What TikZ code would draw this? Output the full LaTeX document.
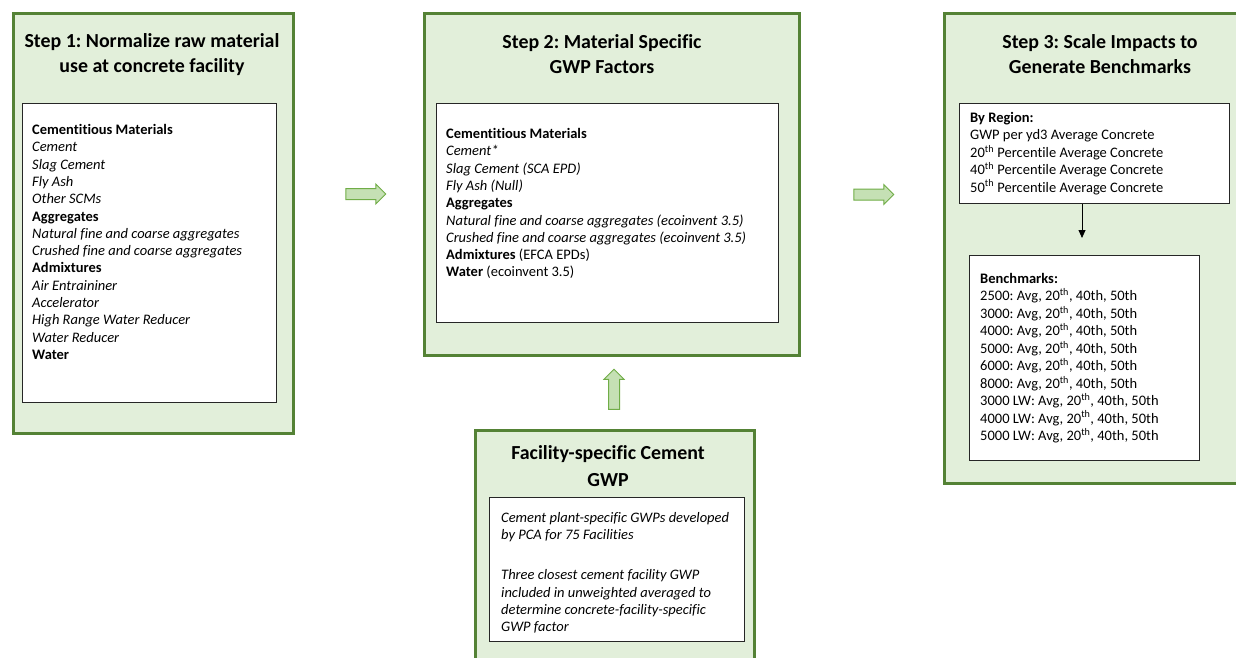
\documentclass[tikz,border=0pt]{standalone}
\usepackage{fontspec}
\setmainfont{Carlito}[Ligatures=NoCommon]
\usetikzlibrary{shapes.arrows,arrows.meta,calc}
\definecolor{boxfill}{HTML}{E2EFDA}
\definecolor{boxline}{HTML}{548235}
\definecolor{arrfill}{HTML}{C5E0B4}
\definecolor{arrline}{HTML}{70AD47}
\frenchspacing
\newcommand{\lines}[1]{\fontsize{14.5}{17.3}\selectfont\begin{tabular}[t]{@{}l@{}}#1\end{tabular}}
\begin{document}
\begin{tikzpicture}[x=1pt,y=-1pt,
  outerbox/.style={draw=boxline, fill=boxfill, line width=2.6pt, inner sep=0pt, anchor=north west},
  innerbox/.style={draw=black!85, fill=white, line width=1.2pt, inner sep=0pt, anchor=north west},
  titletext/.style={font=\fontsize{19.9}{25}\selectfont\bfseries, align=center, inner sep=0pt},
  bodytext/.style={inner sep=0pt, anchor=base west},
  blockarrow/.style={single arrow, draw=arrline, fill=arrfill, line width=1pt, text width=0pt,
    inner xsep=0pt, inner ysep=5pt, minimum height=40pt, single arrow head extend=4.5pt, single arrow tip angle=90}]
\useasboundingbox (0,0) rectangle (1236,658);
\clip (0,0) rectangle (1236,658);
\fill[white] (0,0) rectangle (1236,658);

% Step 1
\node[outerbox, minimum width=280pt, minimum height=420pt] (s1) at (12,12) {};
\node[titletext] (s1t) at (152,54.5) {Step 1: Normalize raw material\\use at concrete facility};
\node[innerbox, minimum width=254pt, minimum height=299pt] (s1b) at (22,103) {};
\node[bodytext] (s1x) at (32,134.5) {\lines{\textbf{Cementitious Materials}\\
\textit{Cement}\\ \textit{Slag Cement}\\ \textit{Fly Ash}\\ \textit{Other SCMs}\\
\textbf{Aggregates}\\ \textit{Natural fine and coarse aggregates}\\ \textit{Crushed fine and coarse aggregates}\\
\textbf{Admixtures}\\ \textit{Air Entraininer}\\ \textit{Accelerator}\\ \textit{High Range Water Reducer}\\ \textit{Water Reducer}\\
\textbf{Water}}};

% Step 2
\node[outerbox, minimum width=375pt, minimum height=342pt] (s2) at (423,12) {};
\node[titletext] (s2t) at (602,54.5) {Step 2: Material Specific\\GWP Factors};
\node[innerbox, minimum width=342pt, minimum height=219pt] (s2b) at (436,103) {};
\node[bodytext] (s2x) at (446,138.5) {\lines{\textbf{Cementitious Materials}\\
\textit{Cement*}\\ \textit{Slag Cement (SCA EPD)}\\ \textit{Fly Ash (Null)}\\
\textbf{Aggregates}\\ \textit{Natural fine and coarse aggregates (ecoinvent 3.5)}\\ \textit{Crushed fine and coarse aggregates (ecoinvent 3.5)}\\
\textbf{Admixtures} (EFCA EPDs)\\ \textbf{Water} (ecoinvent 3.5)}};

% Step 3
\node[outerbox, minimum width=320pt, minimum height=470pt] (s3) at (943,12) {};
\node[titletext] (s3t) at (1100,54.5) {Step 3: Scale Impacts to\\Generate Benchmarks};
\node[innerbox, minimum width=270pt, minimum height=100pt] (reg) at (959,103) {};
\node[bodytext] (regx) at (970,122.5) {\lines{\textbf{By Region:}\\
GWP per yd3 Average Concrete\\
20\textsuperscript{th} Percentile Average Concrete\\
40\textsuperscript{th} Percentile Average Concrete\\
50\textsuperscript{th} Percentile Average Concrete}};
\node[innerbox, minimum width=230pt, minimum height=205pt] (bm) at (969,255) {};
\node[bodytext] (bmx) at (980,283.5) {\lines{\textbf{Benchmarks:}\\
2500: Avg, 20\textsuperscript{th}, 40th, 50th\\
3000: Avg, 20\textsuperscript{th}, 40th, 50th\\
4000: Avg, 20\textsuperscript{th}, 40th, 50th\\
5000: Avg, 20\textsuperscript{th}, 40th, 50th\\
6000: Avg, 20\textsuperscript{th}, 40th, 50th\\
8000: Avg, 20\textsuperscript{th}, 40th, 50th\\
3000 LW: Avg, 20\textsuperscript{th}, 40th, 50th\\
4000 LW: Avg, 20\textsuperscript{th}, 40th, 50th\\
5000 LW: Avg, 20\textsuperscript{th}, 40th, 50th}};
\coordinate (regtip) at (1082,238);
\draw[line width=0.8pt, -{Triangle[length=8pt,width=7pt]}] (reg.south -| regtip) -- (regtip);

% Facility box
\node[outerbox, minimum width=279pt, minimum height=260pt] (fc) at (474,429) {};
\node[titletext, font=\fontsize{19.9}{27}\selectfont\bfseries] (fct) at (608,466) {Facility-specific Cement\\GWP};
\node[innerbox, minimum width=255pt, minimum height=144pt] (fcb) at (489,497) {};
\node[bodytext] (fcx) at (501,522.5) {\lines{\textit{Cement plant-specific GWPs developed}\\
\textit{by PCA for 75 Facilities}\\[22.7pt]
\textit{Three closest cement facility GWP}\\
\textit{included in unweighted averaged to}\\
\textit{determine concrete-facility-specific}\\
\textit{GWP factor}}};

% Block arrows
\node[blockarrow] (a1) at (363,194) {};
\node[blockarrow] (a2) at (871,194.5) {};
\node[blockarrow, rotate=90] (a3) at (614,392) {};
\end{tikzpicture}
\end{document}
